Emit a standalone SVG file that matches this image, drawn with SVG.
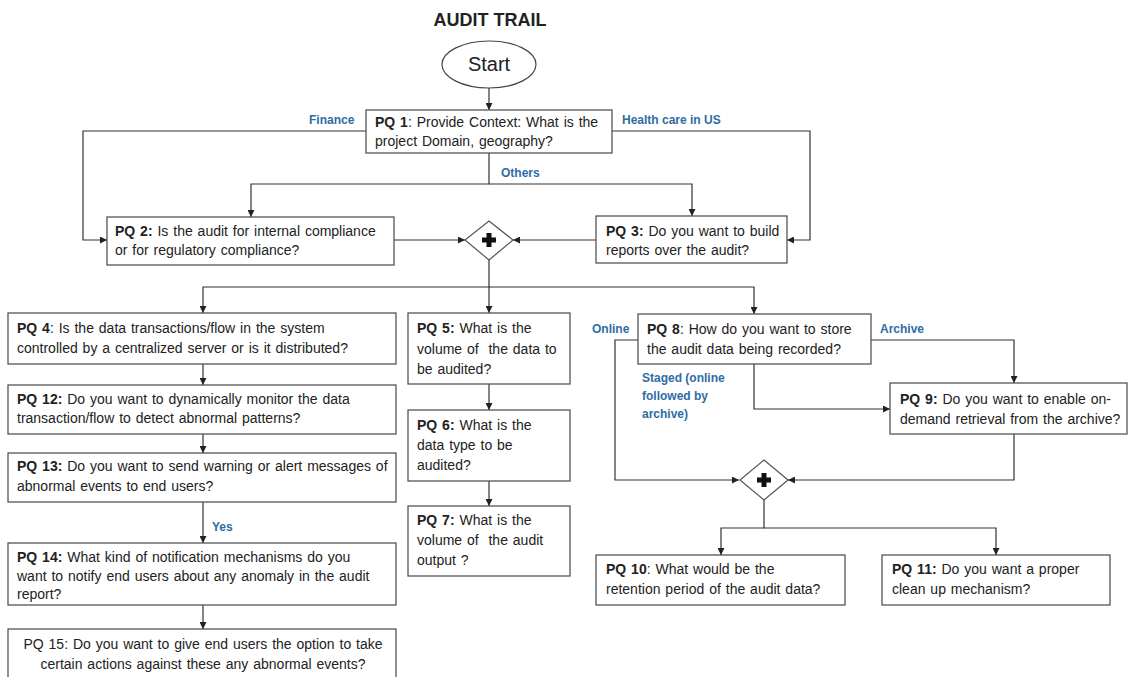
<svg xmlns="http://www.w3.org/2000/svg" width="1129" height="677" viewBox="0 0 1129 677">
<defs>
<marker id="ah" viewBox="0 0 10 10" refX="10" refY="5" markerWidth="7" markerHeight="7" markerUnits="userSpaceOnUse" orient="auto">
<path d="M0,0 L10,5 L0,10 z" fill="#222"/>
</marker>
<style>
.box{fill:#fff;stroke:#555;stroke-width:1.3}
.t{font-family:"Liberation Sans",Arial,sans-serif;font-size:14px;word-spacing:1px;fill:#222;white-space:pre}
.b{font-weight:bold}
.lbl{font-family:"Liberation Sans",Arial,sans-serif;font-size:12px;font-weight:bold;fill:#2E6DA4}
.c{fill:none;stroke:#333;stroke-width:1.2}
.ca{fill:none;stroke:#333;stroke-width:1.2;marker-end:url(#ah)}
.dia{fill:#fff;stroke:#555;stroke-width:1.2}
.plus{fill:#111}
</style>
</defs>
<rect width="1129" height="677" fill="#fff"/>
<text x="490" y="26" text-anchor="middle" style="font-family:'Liberation Sans',Arial,sans-serif;font-size:18px;font-weight:bold;fill:#222">AUDIT TRAIL</text>

<g id="connectors">
<path class="ca" d="M489,88 V110"/>
<path class="ca" d="M366,131 H83 V240 H107"/>
<path class="ca" d="M612,131 H810 V240 H787"/>
<path class="ca" d="M489,153 V184 H251 V217"/>
<path class="ca" d="M489,184 H692 V216"/>
<path class="ca" d="M394,240 H465"/>
<path class="ca" d="M596,240 H513"/>
<path class="ca" d="M489,260 V287 H203 V313"/>
<path class="ca" d="M489,287 V313"/>
<path class="ca" d="M489,287 H754 V314"/>
<path class="ca" d="M203,364 V385"/>
<path class="ca" d="M203,434 V453"/>
<path class="ca" d="M203,502 V543"/>
<path class="ca" d="M203,605 V629"/>
<path class="ca" d="M489,384 V410"/>
<path class="ca" d="M489,481 V506"/>
<path class="ca" d="M638,340 H615 V480 H739"/>
<path class="ca" d="M871,340 H1014 V383"/>
<path class="ca" d="M754,364 V409 H890"/>
<path class="ca" d="M1014,434 V480 H788"/>
<path class="ca" d="M764,500 V528 H721 V555"/>
<path class="ca" d="M764,528 H996 V555"/>
</g>

<g id="labels">
<text class="lbl" x="309" y="124">Finance</text>
<text class="lbl" x="622" y="124">Health care in US</text>
<text class="lbl" x="501" y="177">Others</text>
<text class="lbl" x="212" y="531">Yes</text>
<text class="lbl" x="592" y="333">Online</text>
<text class="lbl" x="880" y="333">Archive</text>
<text class="lbl" x="642" y="382">Staged (online</text>
<text class="lbl" x="642" y="400">followed by</text>
<text class="lbl" x="642" y="418">archive)</text>
</g>

<g id="start">
<ellipse cx="489" cy="64.5" rx="47" ry="23.5" fill="#fff" stroke="#444" stroke-width="1.2"/>
<text x="489" y="71" text-anchor="middle" style="font-family:'Liberation Sans',Arial,sans-serif;font-size:20px;fill:#222">Start</text>
</g>

<g id="pq1">
<rect class="box" x="366" y="110" width="246" height="43"/>
<text class="t" x="375" y="127"><tspan class="b">PQ 1</tspan>: Provide Context: What is the</text>
<text class="t" x="375" y="146">project Domain, geography?</text>
</g>

<g id="pq2">
<rect class="box" x="107" y="217" width="287" height="48"/>
<text class="t" x="115" y="236"><tspan class="b">PQ 2:</tspan> Is the audit for internal compliance</text>
<text class="t" x="115" y="255">or for regulatory compliance?</text>
</g>

<g id="pq3">
<rect class="box" x="596" y="216" width="191" height="47"/>
<text class="t" x="606" y="236"><tspan class="b">PQ 3:</tspan> Do you want to build</text>
<text class="t" x="606" y="255">reports over the audit?</text>
</g>

<g id="join1">
<polygon class="dia" points="489,221 513,240 489,260 465,240"/>
<rect class="plus" x="482" y="237.5" width="14" height="5"/>
<rect class="plus" x="486.5" y="233" width="5" height="14"/>
</g>

<g id="pq4">
<rect class="box" x="8" y="313" width="388" height="51"/>
<text class="t" x="17" y="333"><tspan class="b">PQ 4</tspan>: Is the data transactions/flow in the system</text>
<text class="t" x="17" y="353">controlled by a centralized server or is it distributed?</text>
</g>

<g id="pq12">
<rect class="box" x="8" y="385" width="388" height="49"/>
<text class="t" x="17" y="404"><tspan class="b">PQ 12:</tspan> Do you want to dynamically monitor the data</text>
<text class="t" x="17" y="423">transaction/flow to detect abnormal patterns?</text>
</g>

<g id="pq13">
<rect class="box" x="8" y="453" width="388" height="49"/>
<text class="t" x="17" y="471"><tspan class="b">PQ 13:</tspan> Do you want to send warning or alert messages of</text>
<text class="t" x="17" y="491">abnormal events to end users?</text>
</g>

<g id="pq14">
<rect class="box" x="8" y="543" width="388" height="62"/>
<text class="t" x="17" y="562"><tspan class="b">PQ 14:</tspan> What kind of notification mechanisms do you</text>
<text class="t" x="17" y="581">want to notify end users about any anomaly in the audit</text>
<text class="t" x="17" y="599">report?</text>
</g>

<g id="pq15">
<rect class="box" x="8" y="629" width="388" height="60"/>
<text class="t" x="203" y="649" text-anchor="middle">PQ 15: Do you want to give end users the option to take</text>
<text class="t" x="203" y="669" text-anchor="middle">certain actions against these any abnormal events?</text>
</g>

<g id="pq5">
<rect class="box" x="408" y="313" width="162" height="71"/>
<text class="t" x="417" y="333"><tspan class="b">PQ 5:</tspan> What is the</text>
<text class="t" x="417" y="354">volume of  the data to</text>
<text class="t" x="417" y="374">be audited?</text>
</g>

<g id="pq6">
<rect class="box" x="408" y="410" width="162" height="71"/>
<text class="t" x="417" y="430"><tspan class="b">PQ 6:</tspan> What is the</text>
<text class="t" x="417" y="450">data type to be</text>
<text class="t" x="417" y="470">audited?</text>
</g>

<g id="pq7">
<rect class="box" x="408" y="506" width="162" height="70"/>
<text class="t" x="417" y="525"><tspan class="b">PQ 7:</tspan> What is the</text>
<text class="t" x="417" y="545">volume of  the audit</text>
<text class="t" x="417" y="565">output ?</text>
</g>

<g id="pq8">
<rect class="box" x="638" y="314" width="233" height="50"/>
<text class="t" x="647" y="334"><tspan class="b">PQ 8</tspan>: How do you want to store</text>
<text class="t" x="647" y="354">the audit data being recorded?</text>
</g>

<g id="pq9">
<rect class="box" x="890" y="383" width="237" height="51"/>
<text class="t" x="900" y="404"><tspan class="b">PQ 9:</tspan> Do you want to enable on-</text>
<text class="t" x="900" y="424">demand retrieval from the archive?</text>
</g>

<g id="join2">
<polygon class="dia" points="764,460 788,480 764,500 740,480"/>
<rect class="plus" x="757" y="477.5" width="14" height="5"/>
<rect class="plus" x="761.5" y="473" width="5" height="14"/>
</g>

<g id="pq10">
<rect class="box" x="596" y="555" width="249" height="50"/>
<text class="t" x="606" y="574"><tspan class="b">PQ 10</tspan>: What would be the</text>
<text class="t" x="606" y="594">retention period of the audit data?</text>
</g>

<g id="pq11">
<rect class="box" x="882" y="555" width="228" height="50"/>
<text class="t" x="892" y="574"><tspan class="b">PQ 11:</tspan> Do you want a proper</text>
<text class="t" x="892" y="594">clean up mechanism?</text>
</g>
</svg>
